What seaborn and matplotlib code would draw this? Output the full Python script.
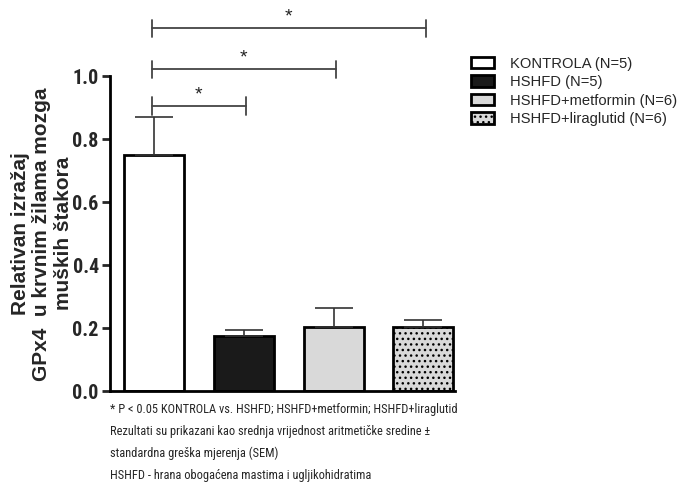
import numpy as np
import pandas as pd
import matplotlib
matplotlib.use('Agg')
import matplotlib.pyplot as plt
from matplotlib.patches import Patch
from matplotlib import font_manager
import seaborn as sns

# data
groups = ['KONTROLA (N=5)', 'HSHFD (N=5)', 'HSHFD+metformin (N=6)', 'HSHFD+liraglutid (N=6)']
means = [0.75, 0.175, 0.205, 0.205]
sem = [0.12, 0.02, 0.06, 0.022]
colors = ['white', '#1a1a1a', '#d9d9d9', '#d9d9d9']
hatches = ['', '', '', '...']
# significance brackets: (from group, to group, height)
brackets = [(0, 1, 0.905), (0, 2, 1.022), (0, 3, 1.152)]
notes = ['* P < 0.05 KONTROLA vs. HSHFD; HSHFD+metformin; HSHFD+liraglutid',
         'Rezultati su prikazani kao srednja vrijednost aritmetičke sredine ±',
         'standardna greška mjerenja (SEM)',
         'HSHFD - hrana obogaćena mastima i ugljikohidratima']
ylabel = 'Relativan izražaj\nGPx4  u krvnim žilama mozga\nmuških štakora'

sns.set_style('white')
plt.rcParams['font.family'] = ['Liberation Sans', 'DejaVu Sans']
plt.rcParams['hatch.color'] = '#7a7a7a'
plt.rcParams['hatch.linewidth'] = 1.0

# narrow faces, best first (the original uses Arial Narrow style text)
prefer = ['Liberation Sans Narrow', 'Roboto Condensed', 'Open Sans Condensed', 'DejaVu Sans Condensed']
def find_narrow(weights):
    fonts = font_manager.fontManager.ttflist
    for name in prefer:
        for f in fonts:
            if f.name == name and f.style == 'normal' and f.weight in weights:
                return f.fname, name
    for f in fonts:
        if f.stretch in ('condensed', 'semi-condensed') and f.style == 'normal' and f.weight in weights:
            return f.fname, f.name
    return None, None

narrow_file, narrow_name = find_narrow((400, 'normal', 'regular'))
narrow_bold, bold_name = find_narrow((700, 'bold'))

Df = pd.DataFrame({'group': groups, 'mean': means, 'sem': sem})

fig = plt.figure(figsize=(6.87, 4.83), dpi=100)
ax = fig.add_axes([0.160, 0.190, 0.502, 0.652])

sns.barplot(data=Df, x='group', y='mean', hue='group', palette=colors,
            edgecolor='black', linewidth=2, width=0.667, legend=False, ax=ax)
for bar, h in zip(ax.patches, hatches):
    bar.set_hatch(h)

ax.errorbar(np.arange(len(means)), means, yerr=[np.zeros(len(sem)), sem],
            fmt='none', ecolor='#333333', elinewidth=1.2, capsize=14, capthick=1.2, zorder=1)

ax.set_xlim(-0.49, 3.35)
ax.set_ylim(0, 1.0)
ax.set_yticks([0.0, 0.2, 0.4, 0.6, 0.8, 1.0])
if narrow_bold:
    tick_fp = font_manager.FontProperties(fname=narrow_bold, size=14 if 'DejaVu' in bold_name else 14.5)
else:
    tick_fp = font_manager.FontProperties(family='Liberation Sans', weight='bold', size=13)
ax.set_yticklabels(['0.0', '0.2', '0.4', '0.6', '0.8', '1.0'], fontproperties=tick_fp)
ax.set_xticks([])
ax.set_xlabel('')
ax.set_ylabel(ylabel, fontsize=15, fontweight='bold', linespacing=1.15)
ax.yaxis.set_label_coords(-0.108, 0.5)
for s in ['top', 'right']:
    ax.spines[s].set_visible(False)
for s in ['left', 'bottom']:
    ax.spines[s].set_linewidth(2)
    ax.spines[s].set_color('black')
ax.tick_params(axis='y', direction='out', length=6, width=2, left=True, pad=2)

# significance brackets above the bars
for a, b, y in brackets:
    ax.plot([a - 0.02, b + 0.03], [y, y], color='#444444', lw=1.3, clip_on=False)
    for xx in [a - 0.02, b + 0.03]:
        ax.plot([xx, xx], [y - 0.028, y + 0.028], color='#444444', lw=1.3, clip_on=False)
    ax.text((a + b) / 2, y + 0.01, '*', ha='center', va='bottom', fontsize=14,
            color='#222222', clip_on=False)

# legend
handles = [Patch(facecolor=c, edgecolor='black', linewidth=2, hatch=h) for c, h in zip(colors, hatches)]
fig.legend(handles, groups, loc='upper left', bbox_to_anchor=(0.667, 0.91), frameon=False,
           fontsize=10.6, handlelength=1.55, handleheight=0.85, handletextpad=1.05, labelspacing=0.3)

# footnotes
if narrow_file and 'DejaVu' not in narrow_name:
    note_fp = font_manager.FontProperties(fname=narrow_file, size=8.9)
else:
    note_fp = font_manager.FontProperties(family='Liberation Sans', size=7.7)
for i, t in enumerate(notes):
    fig.text(0.160, 1 - (409 + i * 22) / 483, t, fontproperties=note_fp,
             ha='left', va='center')

fig.savefig('out.png', dpi=100)
